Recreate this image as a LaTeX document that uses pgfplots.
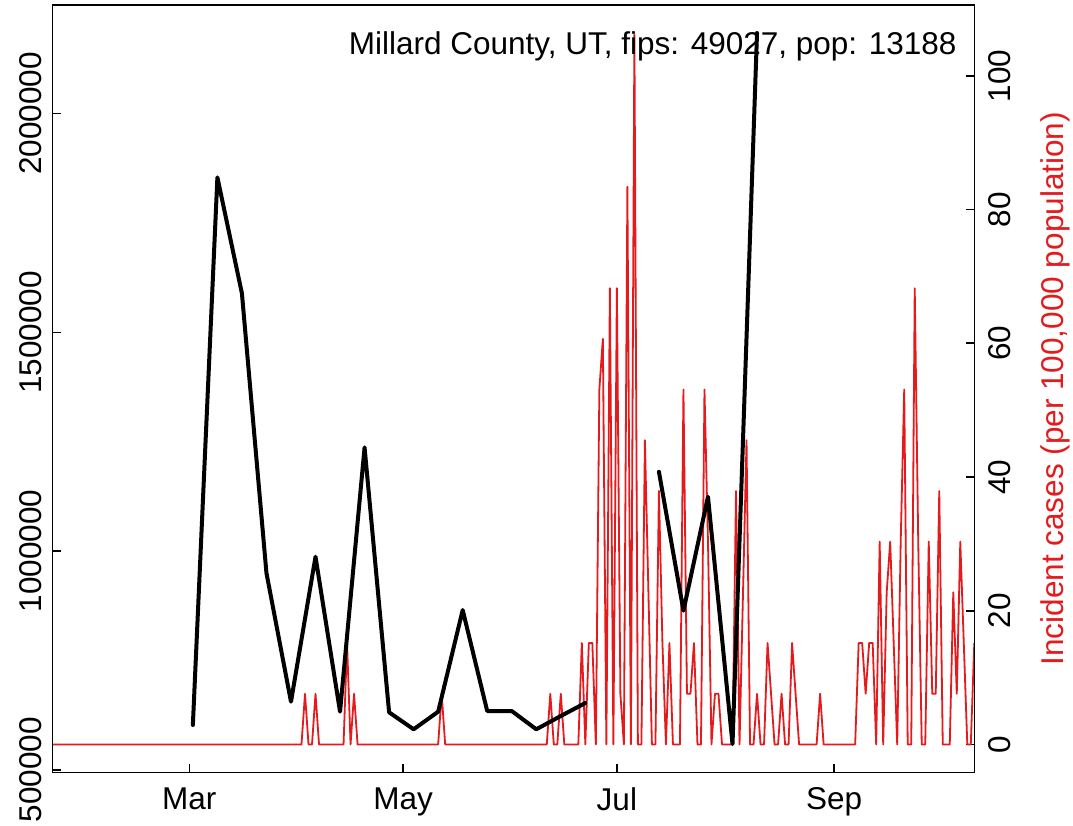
\documentclass[border=0pt]{standalone}
\usepackage{fontspec}
\setmainfont{Liberation Sans}
\usepackage{pgfplots}
\pgfplotsset{compat=1.18}
\usepackage{pgfplotstable}
\definecolor{cred}{HTML}{E41A1C}

% daily incident cases per 100,000 (day of year 2020, Jan 1 = 0)
\pgfplotstableread{
d v
21 0
92 0
93 7.58
94 0
95 0
96 7.58
97 0
104 0
105 15.17
106 0
107 7.58
108 0
131 0
132 7.58
133 0
162 0
163 7.58
164 0
165 0
166 7.58
167 0
171 0
172 15.17
173 0
174 15.17
175 15.17
176 0
177 53.08
178 60.66
179 0
180 68.24
181 0
182 68.24
183 7.58
184 0
185 83.41
186 0
187 106.16
188 0
189 0
190 45.50
191 22.75
192 0
193 0
194 37.91
195 15.17
196 0
197 15.17
198 0
200 0
201 53.08
202 7.58
203 7.58
204 15.17
205 0
206 0
207 53.08
208 30.33
209 0
210 7.58
211 7.58
212 0
215 0
216 37.91
217 0
218 22.75
219 45.50
220 0
221 0
222 7.58
223 0
224 0
225 15.17
226 7.58
227 0
228 0
229 7.58
230 0
231 0
232 15.17
233 7.58
234 0
239 0
240 7.58
241 0
250 0
251 15.17
252 15.17
253 7.58
254 15.17
255 15.17
256 0
257 30.33
258 0
259 22.75
260 30.33
261 15.17
262 0
263 30.33
264 53.08
265 0
266 0
267 68.24
268 30.33
269 0
270 0
271 30.33
272 7.58
273 7.58
274 37.91
275 0
277 0
278 22.75
279 7.58
280 30.33
281 15.17
282 0
283 0
284 15.17
}\redtab

% weekly series (left axis)
\pgfplotstableread{
d v
61 602200
68 1854300
75 1589100
82 949700
89 655500
96 987000
103 632600
110 1237000
117 631200
124 592400
131 632600
138 865100
145 634200
152 634200
159 592400
166 622800
173 652500
180 nan
187 nan
194 1181200
201 863500
208 1124100
215 558600
222 2184500
}\blacktab

\begin{document}
\begin{tikzpicture}
\pgfplotsset{
  every axis/.append style={
    width=460.8pt, height=383.75pt, scale only axis,
    xmin=21, xmax=284,
    tick align=inside, major tick length=4pt,
    tick style={line width=0.8pt, black},
    axis line style={line width=0.8pt, black},
    tick label style={font=\fontsize{15.75}{18}\selectfont},
  }
}
% red series, right axis
\begin{axis}[
  name=red,
  ymin=-4.2, ymax=110.6,
  axis x line=none,
  axis y line*=right,
  axis line style={-},
  ytick={0,20,40,60,80,100},
  yticklabels={0,20,40,60,80,100},
  yticklabel style={rotate=90, anchor=north, inner sep=0pt, yshift=0pt, xshift=0pt},
  every y tick label/.append style={},
  y tick label style={inner sep=6.85pt},
  ylabel={Incident cases (per 100,000 population)},
  ylabel style={at={(axis description cs:1.0716,0.5)}, anchor=north, inner sep=0pt,
    text=cred, font=\fontsize{15.75}{18}\selectfont},
]
\addplot[color=cred, line width=0.9pt, mark=none, line join=round] table[x=d, y=v] {\redtab};
\end{axis}
% black series, left axis with frame
\begin{axis}[
  name=main,
  ymin=493600, ymax=2248500,
  xtick={60,121,182,244},
  xticklabels={Mar,May,Jul,Sep},
  ytick={500000,1000000,1500000,2000000},
  yticklabels={500000,1000000,1500000,2000000},
  scaled y ticks=false,
  xtick pos=left, ytick pos=left,
  xticklabel style={anchor=north, inner sep=7.25pt},
  yticklabel style={rotate=90, anchor=south, inner sep=5.35pt},
  unbounded coords=jump,
]
\addplot[black, line width=2pt, mark=none, line join=round, line cap=round] table[x=d, y=v] {\blacktab};
\node[anchor=base east, inner sep=0pt, font=\fontsize{15.75}{18}\selectfont]
  at (axis description cs:0.9812,0.9349) {Millard County, UT, fips: 49027, pop: 13188};
\end{axis}
\pgfresetboundingbox
\path[use as bounding box] ([xshift=-26.35pt,yshift=-26.75pt]main.south west) rectangle ([xshift=49.35pt,yshift=2.5pt]main.north east);
\end{tikzpicture}
\end{document}
